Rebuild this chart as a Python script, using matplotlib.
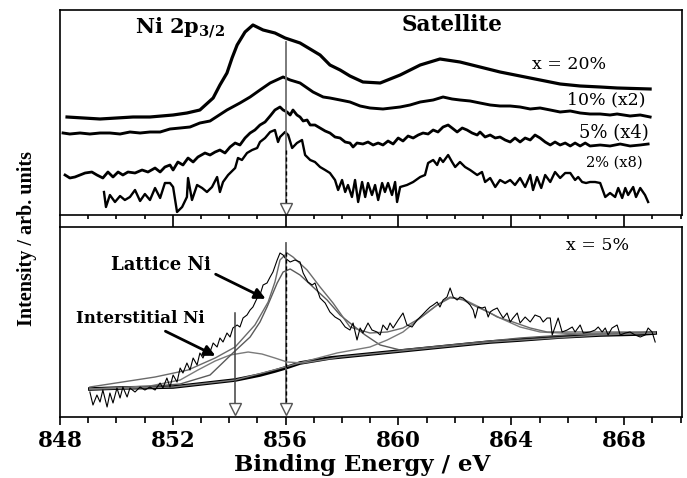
import matplotlib
matplotlib.use('Agg')
import matplotlib.pyplot as plt
from matplotlib.ticker import MultipleLocator, NullFormatter

# ---- top panel: Ni 2p3/2 spectra for different x (arb. units) ----
e20 = [848.25, 849.42, 850.59, 851.19, 852.01, 852.50, 852.96, 853.43, 853.67, 853.92,
       854.10, 854.28, 854.56, 854.84, 855.20, 855.62, 855.98, 856.51, 857.22, 857.57,
       857.93, 858.28, 858.74, 859.35, 860.06, 860.77, 861.47, 862.18, 862.89, 863.60,
       864.31, 865.02, 865.73, 866.44, 867.15, 867.75, 868.92]
i20 = [98, 96, 98, 98, 100, 102, 105, 117, 130, 142,
       157, 170, 183, 190, 185, 182, 177, 172, 160, 150,
       145, 139, 133, 132, 140, 150, 156, 153, 148, 143,
       139, 135, 131, 129, 128, 127, 126]

e10 = [848.11, 848.35, 848.71, 849.06, 849.42, 849.77, 850.13, 850.48, 850.84, 851.19,
       851.55, 851.90, 852.26, 852.61, 852.96, 853.32, 853.92, 854.38, 854.74, 855.09,
       855.45, 855.91, 856.16, 856.51, 856.97, 857.33, 857.57, 857.93, 858.28, 858.64,
       858.99, 859.45, 860.06, 860.41, 860.77, 861.23, 861.58, 861.90, 862.18, 862.54,
       862.89, 863.25, 863.60, 863.96, 864.31, 864.67, 865.02, 865.38, 865.73, 866.09,
       866.44, 866.79, 867.15, 867.50, 867.75, 868.21, 868.57, 868.92]
i10 = [82, 81, 82, 81, 82, 82, 81, 83, 82, 83,
       83, 86, 87, 88, 92, 94, 105, 112, 118, 125,
       132, 138, 135, 132, 123, 118, 117, 115, 113, 109,
       107, 106, 108, 110, 113, 115, 118, 116, 115, 114,
       112, 110, 109, 109, 108, 106, 107, 105, 103, 104,
       102, 101, 101, 100, 101, 99, 100, 98]

e5 = [848.18, 848.35, 848.53, 848.89, 849.13, 849.31, 849.52, 849.70, 849.88, 850.06,
      850.23, 850.41, 850.66, 850.91, 851.12, 851.37, 851.55, 851.72, 851.90, 852.01,
      852.18, 852.36, 852.54, 852.72, 852.89, 853.14, 853.32, 853.50, 853.67, 853.85,
      854.03, 854.21, 854.38, 854.56, 854.74, 854.91, 855.09, 855.27, 855.45, 855.62,
      855.80, 855.91, 856.05, 856.16, 856.26, 856.40, 856.51, 856.62, 856.76, 856.87,
      857.04, 857.22, 857.40, 857.57, 857.75, 857.93, 858.11, 858.28, 858.39, 858.53,
      858.74, 858.92, 859.10, 859.28, 859.45, 859.63, 859.81, 859.99, 860.16, 860.34,
      860.52, 860.70, 860.87, 861.05, 861.23, 861.40, 861.58, 861.76, 861.90, 862.08,
      862.26, 862.43, 862.61, 862.79, 862.89, 863.07, 863.25, 863.43, 863.60, 863.78,
      863.96, 864.13, 864.31, 864.49, 864.67, 864.84, 865.02, 865.20, 865.38, 865.55,
      865.73, 865.91, 866.09, 866.26, 866.44, 866.62, 866.79, 867.15, 867.50, 867.86,
      868.21, 868.57, 868.85]
i5 = [40, 37, 38, 42, 43, 40, 37, 43, 38, 43,
      40, 43, 42, 45, 43, 47, 43, 48, 50, 45,
      53, 50, 57, 53, 58, 62, 60, 63, 65, 62,
      68, 72, 70, 77, 82, 85, 90, 93, 99, 105,
      108, 105, 103, 100, 105, 100, 98, 94, 95, 90,
      90, 87, 84, 82, 78, 77, 73, 72, 68, 72,
      71, 73, 70, 72, 70, 74, 71, 77, 74, 79,
      77, 80, 82, 81, 85, 83, 88, 90, 87, 83,
      87, 85, 82, 80, 83, 78, 80, 77, 78, 75,
      73, 77, 73, 77, 75, 80, 77, 73, 70, 73,
      70, 72, 69, 72, 69, 72, 69, 70, 69, 71,
      69, 70, 71]

e2 = [849.56, 849.63, 849.77, 849.95, 850.13, 850.30, 850.48, 850.66, 850.84, 851.01,
      851.19, 851.37, 851.55, 851.72, 851.90, 852.01, 852.15, 852.33, 852.50, 852.54,
      852.68, 852.86, 853.04, 853.21, 853.39, 853.57, 853.67, 853.78, 853.96, 854.21,
      854.31, 854.45, 854.63, 854.81, 854.99, 855.09, 855.27, 855.45, 855.62, 855.73,
      855.80, 855.98, 856.09, 856.23, 856.40, 856.58, 856.69, 856.87, 857.04, 857.22,
      857.40, 857.57, 857.75, 857.86, 858.00, 858.11, 858.21, 858.35, 858.46, 858.57,
      858.71, 858.82, 858.92, 859.06, 859.17, 859.28, 859.42, 859.52, 859.63, 859.77,
      859.88, 859.95, 860.06, 860.30, 860.52, 860.77, 860.94, 861.05, 861.23, 861.37,
      861.47, 861.58, 861.76, 861.90, 862.01, 862.18, 862.36, 862.54, 862.79, 862.96,
      863.07, 863.25, 863.43, 863.60, 863.78, 863.96, 864.13, 864.31, 864.49, 864.67,
      864.77, 864.91, 865.06, 865.20, 865.38, 865.55, 865.73, 865.91, 866.09, 866.26,
      866.37, 866.51, 866.65, 866.79, 866.97, 867.15, 867.33, 867.50, 867.68, 867.79,
      867.93, 868.04, 868.14, 868.32, 868.42, 868.57, 868.74, 868.85]
i2 = [23, 8, 20, 13, 19, 15, 18, 25, 14, 21,
      15, 27, 17, 32, 32, 28, 3, 8, 18, 37,
      15, 30, 27, 23, 28, 38, 23, 33, 40, 47,
      57, 55, 62, 65, 67, 73, 77, 83, 85, 73,
      78, 83, 80, 67, 72, 75, 60, 55, 53, 48,
      45, 42, 35, 25, 35, 23, 30, 18, 35, 13,
      33, 18, 32, 20, 30, 15, 32, 23, 32, 20,
      33, 13, 28, 30, 33, 38, 40, 52, 55, 50,
      57, 53, 60, 53, 48, 53, 48, 45, 40, 43,
      33, 37, 28, 35, 32, 35, 30, 37, 28, 40,
      25, 38, 27, 40, 33, 43, 37, 42, 42, 35,
      38, 33, 32, 33, 33, 32, 18, 22, 18, 27,
      17, 27, 20, 28, 18, 27, 20, 13]

# ---- bottom panel: x = 5% spectrum with fit ----
e_dat = [849.06, 849.17, 849.31, 849.42, 849.52, 849.67, 849.77, 849.88, 850.02, 850.13,
         850.23, 850.38, 850.48, 850.66, 850.84, 851.01, 851.19, 851.37, 851.55, 851.65,
         851.79, 851.90, 852.01, 852.15, 852.26, 852.36, 852.50, 852.61, 852.72, 852.86,
         852.96, 853.07, 853.21, 853.32, 853.43, 853.57, 853.67, 853.78, 853.92, 854.03,
         854.13, 854.28, 854.38, 854.49, 854.63, 854.74, 854.84, 854.99, 855.09, 855.20,
         855.34, 855.45, 855.55, 855.70, 855.80, 855.91, 855.98, 856.16, 856.33, 856.51,
         856.62, 856.79, 856.94, 857.04, 857.22, 857.40, 857.57, 857.75, 857.93, 858.11,
         858.28, 858.39, 858.53, 858.64, 858.74, 858.92, 859.06, 859.24, 859.35, 859.45,
         859.60, 859.70, 859.81, 859.99, 860.16, 860.30, 860.48, 860.66, 860.84, 861.01,
         861.12, 861.23, 861.37, 861.47, 861.58, 861.72, 861.83, 861.94, 862.08, 862.18,
         862.29, 862.43, 862.54, 862.65, 862.72, 862.82, 862.96, 863.07, 863.18, 863.25,
         863.35, 863.50, 863.60, 863.71, 863.85, 863.96, 864.06, 864.21, 864.31, 864.49,
         864.67, 864.84, 865.02, 865.13, 865.27, 865.38, 865.45, 865.55, 865.66, 865.80,
         865.98, 866.16, 866.26, 866.44, 866.55, 866.79, 866.97, 867.08, 867.22, 867.33,
         867.43, 867.57, 867.75, 867.86, 868.04, 868.21, 868.39, 868.57, 868.74, 868.85,
         868.99, 869.10]
i_dat = [25, 12, 22, 15, 27, 10, 24, 14, 29, 19,
         30, 20, 29, 25, 30, 27, 30, 27, 34, 29,
         39, 30, 42, 35, 49, 44, 54, 47, 59, 52,
         64, 59, 69, 65, 74, 70, 79, 75, 84, 80,
         89, 92, 90, 99, 102, 107, 110, 119, 122, 132,
         134, 140, 145, 157, 164, 162, 159, 155, 157, 155,
         144, 135, 132, 134, 119, 114, 105, 100, 97, 90,
         87, 94, 77, 89, 84, 94, 87, 85, 82, 92,
         87, 94, 89, 97, 104, 92, 90, 97, 102, 107,
         110, 112, 115, 110, 117, 120, 129, 120, 117, 120,
         119, 115, 112, 107, 99, 110, 109, 110, 100, 105,
         107, 109, 104, 99, 104, 95, 99, 104, 94, 100,
         95, 102, 100, 95, 99, 99, 82, 90, 99, 85,
         87, 90, 85, 92, 84, 85, 87, 90, 85, 89,
         82, 89, 92, 82, 84, 85, 82, 80, 82, 89,
         85, 75]

e_bg = [849.06, 850.13, 852.01, 852.96, 854.21, 855.09, 855.62, 855.98, 856.51, 857.57,
        858.64, 860.06, 861.47, 863.25, 864.31, 865.73, 867.15, 868.57, 869.10]
i_bg = [28, 29, 30, 33, 37, 42, 46, 49, 54, 59,
        62, 66, 70, 75, 77, 80, 82, 83, 84]

e_int = [849.06, 851.19, 852.26, 852.89, 853.50, 854.03, 854.67, 855.16, 855.62, 856.05,
         856.62, 857.93, 860.06, 863.25, 867.15, 869.10]
i_int = [28, 31, 37, 47, 56, 62, 65, 63, 59, 55,
         54, 60, 66, 75, 82, 84]

e_lat = [849.06, 850.48, 852.26, 853.32, 854.13, 854.74, 855.09, 855.34, 855.52, 855.70,
         855.91, 856.16, 856.51, 856.97, 857.47, 857.93, 858.28, 858.82, 859.35, 860.06,
         860.77, 862.18, 864.31, 866.44, 869.10]
i_lat = [28, 29, 33, 42, 64, 80, 95, 110, 122, 134,
         145, 148, 142, 130, 117, 102, 94, 82, 72, 67,
         69, 73, 79, 83, 85]

e_sat = [849.06, 852.01, 854.21, 855.45, 856.62, 857.82, 858.99, 859.60, 860.16, 860.77,
         861.37, 861.83, 862.29, 862.79, 863.25, 863.60, 864.31, 865.02, 866.44, 867.86,
         869.10]
i_sat = [28, 30, 37, 46, 55, 64, 70, 77, 85, 99,
         112, 119, 118, 111, 104, 99, 90, 85, 83, 83,
         84]

e_env = [849.06, 851.37, 852.54, 853.50, 854.21, 854.91, 855.38, 855.62, 855.80, 856.05,
         856.26, 856.76, 857.22, 857.68, 858.28, 858.99, 859.60, 860.16, 860.77, 861.37,
         861.83, 862.29, 862.79, 863.25, 863.50, 864.06, 864.67, 865.27, 866.44, 869.10]
i_env = [30, 40, 47, 59, 70, 92, 115, 135, 157, 164,
         160, 147, 130, 114, 90, 84, 85, 89, 99, 112,
         120, 117, 110, 104, 100, 95, 89, 85, 85, 85]

peak_lattice = 856.0
peak_inter = 854.2

plt.rcParams['font.family'] = 'DejaVu Serif'
plt.rcParams['mathtext.fontset'] = 'dejavuserif'
plt.rcParams['axes.linewidth'] = 1.2

fig = plt.figure(figsize=(6.87, 4.78), dpi=100)
ax1 = fig.add_axes([0.0873, 0.5502, 0.9054, 0.4289])
ax2 = fig.add_axes([0.0873, 0.1276, 0.9054, 0.3975])

for ax in (ax1, ax2):
    ax.set_xlim(848, 870.05)
    ax.xaxis.set_major_locator(MultipleLocator(4))
    ax.xaxis.set_minor_locator(MultipleLocator(1))
    ax.set_yticks([])
    ax.tick_params(axis='x', which='both', direction='out', width=1.2, top=False)

# top panel
ax1.plot(e20, i20, color='black', lw=2.3)
ax1.plot(e10, i10, color='black', lw=2.1)
ax1.plot(e5, i5, color='black', lw=2.0)
ax1.plot(e2, i2, color='black', lw=1.7)
ax1.set_ylim(0, 205)
ax1.tick_params(axis='x', which='major', length=9)
ax1.tick_params(axis='x', which='minor', length=3)
ax1.xaxis.set_major_formatter(NullFormatter())

ax1.plot([peak_lattice, peak_lattice], [173, 10], color='#707070', lw=1.3)
ax1.plot([peak_lattice, peak_lattice], [65, 10], color='black', lw=1.0, ls=(0, (3, 2)))
ax1.plot([peak_lattice], [6], marker='v', ms=8, mfc='white', mec='#555555', mew=1.0)

ax1.text(0.193, 0.915, r'Ni 2p$_{\mathbf{3/2}}$', transform=ax1.transAxes,
         ha='center', va='center', fontsize=15, fontweight='bold')
ax1.text(0.630, 0.927, 'Satellite', transform=ax1.transAxes, ha='center', va='center',
         fontsize=15.5, fontweight='bold')
ax1.text(0.818, 0.732, 'x = 20%', transform=ax1.transAxes, ha='center', va='center', fontsize=12.5)
ax1.text(0.879, 0.561, '10% (x2)', transform=ax1.transAxes, ha='center', va='center', fontsize=12.5)
ax1.text(0.891, 0.400, '5% (x4)', transform=ax1.transAxes, ha='center', va='center', fontsize=13)
ax1.text(0.892, 0.254, '2% (x8)', transform=ax1.transAxes, ha='center', va='center', fontsize=10.5)

# bottom panel
ax2.plot(e_bg, i_bg, color='black', lw=2.6)
ax2.plot(e_int, i_int, color='#7a7a7a', lw=1.0)
ax2.plot(e_lat, i_lat, color='#5a5a5a', lw=1.0)
ax2.plot(e_sat, i_sat, color='#7a7a7a', lw=1.0)
ax2.plot(e_env, i_env, color='#6a6a6a', lw=1.0)
ax2.plot(e_dat, i_dat, color='black', lw=0.8)
ax2.set_ylim(0, 190)
ax2.tick_params(axis='x', which='major', length=6, labelsize=15.5, pad=3)
ax2.tick_params(axis='x', which='minor', length=4)
for lab in ax2.get_xticklabels():
    lab.set_fontweight('bold')

ax2.plot([peak_inter, peak_inter], [104, 10], color='#404040', lw=1.1)
ax2.plot([peak_inter], [8], marker='v', ms=8, mfc='white', mec='#555555', mew=1.0)
ax2.plot([peak_lattice, peak_lattice], [174, 10], color='#606060', lw=1.3)
ax2.plot([peak_lattice, peak_lattice], [165, 10], color='black', lw=1.0, ls=(0, (3, 2)))
ax2.plot([peak_lattice], [8], marker='v', ms=8, mfc='white', mec='#555555', mew=1.0)

ax2.text(0.865, 0.905, 'x = 5%', transform=ax2.transAxes, ha='center', va='center', fontsize=12.5)
ax2.annotate('', xy=(855.38, 117), xytext=(853.43, 144),
             arrowprops=dict(arrowstyle='-|>', color='black', lw=2.0, mutation_scale=16))
ax2.annotate('', xy=(853.60, 60), xytext=(851.65, 87),
             arrowprops=dict(arrowstyle='-|>', color='black', lw=2.0, mutation_scale=16))
ax2.text(0.162, 0.800, 'Lattice Ni', transform=ax2.transAxes, ha='center', va='center',
         fontsize=13, fontweight='bold')
ax2.text(0.129, 0.521, 'Interstitial Ni', transform=ax2.transAxes, ha='center', va='center',
         fontsize=12, fontweight='bold')

fig.text(0.527, 0.014, 'Binding Energy / eV', ha='center', va='baseline',
         fontsize=16.5, fontweight='bold')
fig.text(0.040, 0.502, 'Intensity / arb. units', rotation=90, ha='center', va='center',
         fontsize=14.5, fontweight='bold', family='Liberation Serif')

fig.savefig('out.png', dpi=100)
